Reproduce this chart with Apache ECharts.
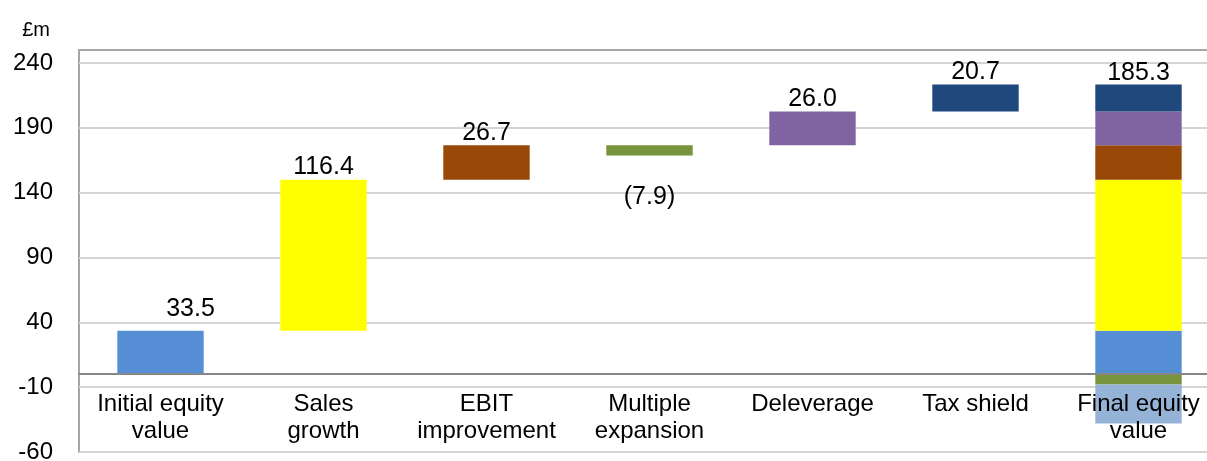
<!DOCTYPE html>
<html>
<head>
<meta charset="utf-8">
<title>Equity value bridge</title>
<script src="https://cdn.jsdelivr.net/npm/echarts@6/dist/echarts.min.js"></script>
<style>
  html, body { margin: 0; padding: 0; background: #ffffff; }
  #chart { width: 1207px; height: 461px; }
</style>
</head>
<body>
<div id="chart"></div>
<script>
// Bridge from initial to final equity value, £m
const categories = ['Initial equity\nvalue', 'Sales\ngrowth', 'EBIT\nimprovement', 'Multiple\nexpansion', 'Deleverage', 'Tax shield', 'Final equity\nvalue'];
const stepValues = [33.5, 116.4, 26.7, -7.9, 26.0, 20.7];
const finalEquityValue = 185.3;
const yTicks = [-60, -10, 40, 90, 140, 190, 240];

const stepColors = ['#558ed5', '#ffff00', '#984807', '#77933c', '#8064a2', '#1f497d'];
const adjustmentColor = '#95b3d7';
const FONT = '"Liberation Sans", Arial, sans-serif';

const Y_MIN = -60, Y_MAX = 250;
const GRID = { left: 79, top: 50, right: -13, bottom: 9 };
const CHART_H = 461;

const fmt = v => (v < 0 ? '(' + Math.abs(v).toFixed(1) + ')' : v.toFixed(1));
const finalIdx = categories.length - 1;

// residual between the sum of the steps and the reported final value
const adjustment = +(finalEquityValue - stepValues.reduce((a, b) => a + b, 0)).toFixed(1);

// floating bases: rises sit on the running level, falls hang just below it
const bases = [];
let level = 0;
stepValues.forEach(v => {
  if (v >= 0) { bases.push(+level.toFixed(1)); level += v; }
  else { bases.push(+(level + v).toFixed(1)); }
});

// label placement per step column
const labelTweaks = {
  0: { offset: [30, -9] },
  3: { position: 'bottom', distance: 29 }
};
const valueLabel = { show: true, position: 'top', distance: 0, color: '#000', fontFamily: FONT, fontSize: 25 };

// top positive block of the final column carries the total label
let topPositive = 0;
stepValues.forEach((v, i) => { if (v >= 0) topPositive = i; });

const series = [{
  name: 'base',
  type: 'bar',
  stack: 'bridge',
  silent: true,
  barWidth: '53%',
  itemStyle: { color: 'transparent' },
  emphasis: { disabled: true },
  data: categories.map((_, j) => (j < stepValues.length ? bases[j] : '-'))
}];

stepValues.forEach((v, i) => {
  series.push({
    name: categories[i].replace('\n', ' '),
    type: 'bar',
    stack: 'bridge',
    barWidth: '53%',
    itemStyle: { color: stepColors[i] },
    emphasis: { disabled: true },
    data: categories.map((_, j) => {
      if (j === i) {
        return { value: Math.abs(v), label: Object.assign({}, valueLabel, { formatter: fmt(v) }, labelTweaks[i] || {}) };
      }
      if (j === finalIdx) {
        if (i === topPositive) {
          return { value: v, label: Object.assign({}, valueLabel, { distance: -1, formatter: fmt(finalEquityValue) }) };
        }
        return v;
      }
      return '-';
    })
  });
});

series.push({
  name: 'Other',
  type: 'bar',
  stack: 'bridge',
  barWidth: '53%',
  itemStyle: { color: adjustmentColor },
  emphasis: { disabled: true },
  data: categories.map((_, j) => (j === finalIdx ? adjustment : '-'))
});

// the category axis sits on the zero line, labels hanging beneath it
const plotH = CHART_H - GRID.top - GRID.bottom;
const zeroOffset = (0 - Y_MIN) / (Y_MAX - Y_MIN) * plotH;

const chart = echarts.init(document.getElementById('chart'));
chart.setOption({
  animation: false,
  backgroundColor: '#ffffff',
  grid: Object.assign({}, GRID, {
    outerBoundsMode: 'none',
    containLabel: false,
    show: true, borderColor: '#a6a6a6', borderWidth: 2, backgroundColor: 'transparent'
  }),
  xAxis: {
    type: 'category',
    data: categories,
    position: 'bottom',
    offset: -zeroOffset,
    z: 5,
    axisLine: { onZero: false, lineStyle: { color: '#868686', width: 2 } },
    axisTick: { show: false },
    axisLabel: { interval: 0, margin: 17, color: '#000', fontFamily: FONT, fontSize: 24, lineHeight: 27 }
  },
  yAxis: {
    type: 'value',
    min: Y_MIN,
    max: Y_MAX,
    name: '£m',
    nameLocation: 'end',
    nameGap: 10,
    nameTextStyle: { color: '#000', fontFamily: FONT, fontSize: 20, align: 'right', padding: [0, 29, 0, 0] },
    axisLine: { show: false },
    axisTick: { show: false, customValues: yTicks },
    axisLabel: { customValues: yTicks, margin: 26, color: '#000', fontFamily: FONT, fontSize: 24 },
    splitLine: { lineStyle: { color: '#d4d4d4', width: 2 } }
  },
  series: series
});
</script>
</body>
</html>
